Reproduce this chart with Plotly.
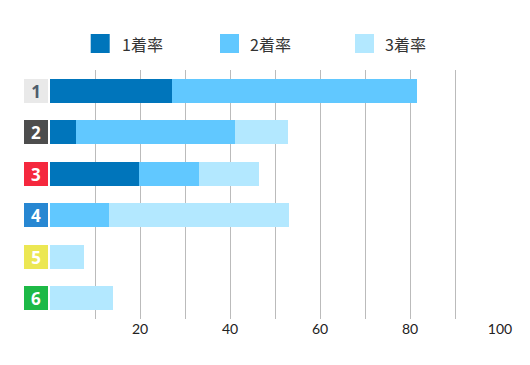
import plotly.graph_objects as go

categories = ["1", "2", "3", "4", "5", "6"]
series_names = ["1着率", "2着率", "3着率"]
first_rate = [27.1, 5.8, 19.8, 0, 0, 0]
second_rate = [54.5, 35.3, 13.3, 13.1, 0, 0]
third_rate = [0, 11.8, 13.3, 39.9, 7.6, 14.0]
tick_values = [20, 40, 60, 80, 100]
tick_labels = ["20", "40", "60", "80", "100"]

series_colors = ["#0075BB", "#61C8FF", "#B3E8FF"]
label_bg = ["#E9E9E9", "#4D4D4D", "#F5283E", "#2787D2", "#ECE753", "#1DB946"]
label_fg = ["#4E5D6C", "#FFFFFF", "#FFFFFF", "#FFFFFF", "#FFFFFF", "#FFFFFF"]

fig = go.Figure()
for name, vals, col in zip(series_names, [first_rate, second_rate, third_rate], series_colors):
    fig.add_trace(go.Bar(y=categories, x=vals, name=name, orientation="h",
                         marker=dict(color=col, line=dict(width=0)),
                         showlegend=False, hoverinfo="x+name"))

annotations = []
for i, (cat, bg, fg) in enumerate(zip(categories, label_bg, label_fg)):
    annotations.append(dict(
        x=0, xref="paper", xanchor="right", xshift=-2,
        y=i, yref="y", yanchor="middle",
        text=cat, showarrow=False,
        width=24, height=24, bgcolor=bg, borderpad=0, borderwidth=0,
        font=dict(family="Open Sans", size=17, color=fg, weight="bold"),
    ))

# manual legend
legend_sq_x = [90.7, 220, 355]
legend_txt_x = [120, 248, 383]
shapes = []
for name, col, sx, tx in zip(series_names, series_colors, legend_sq_x, legend_txt_x):
    shapes.append(dict(type="rect", xref="paper", yref="paper",
                       x0=(sx - 50) / 450, x1=(sx + 19 - 50) / 450,
                       y0=(319 - 53) / 249, y1=(319 - 34) / 249,
                       fillcolor=col, line=dict(width=0)))
    annotations.append(dict(x=(tx - 50) / 450, xref="paper", xanchor="left",
                            y=(319 - 44) / 249, yref="paper", yanchor="middle",
                            text=name, showarrow=False,
                            font=dict(family="Noto Sans CJK JP", size=16, color="#333333")))

fig.update_layout(
    barmode="stack",
    bargap=0.43,
    width=530, height=365,
    margin=dict(l=50, r=30, t=70, b=46),
    paper_bgcolor="white", plot_bgcolor="white",
    shapes=shapes,
    annotations=annotations,
    xaxis=dict(range=[0, 100], tickvals=tick_values, ticktext=tick_labels,
               showgrid=True, gridcolor="#BBBBBB", gridwidth=1,
               minor=dict(tickvals=[10, 30, 50, 70, 90], showgrid=True,
                          gridcolor="#BBBBBB", gridwidth=1),
               zeroline=False, showline=False, ticks="",
               tickfont=dict(family="Lato", size=14, color="#222222"),
               fixedrange=True),
    yaxis=dict(categoryorder="array", categoryarray=categories,
               autorange="reversed", showticklabels=False, showgrid=False,
               zeroline=False, showline=False, ticks="", fixedrange=True),
)

fig.write_html("out.html", config={"displayModeBar": False},
               post_script="document.body.style.margin='0';")
